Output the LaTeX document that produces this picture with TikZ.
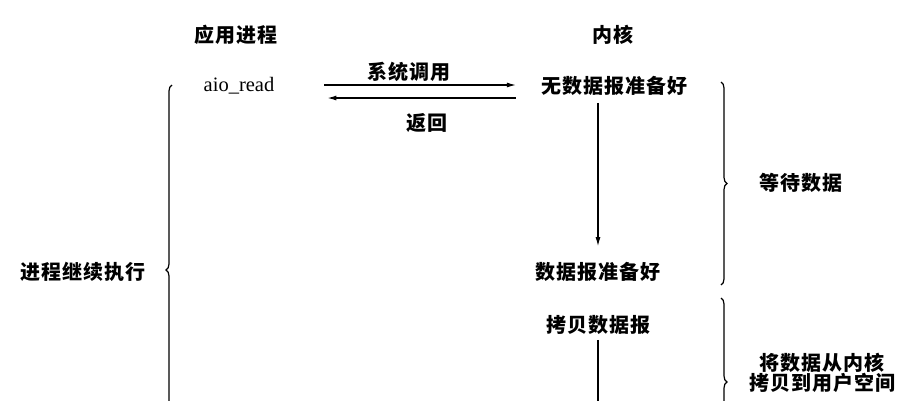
\documentclass[tikz,border=0pt]{standalone}
\usepackage{fontspec}
\newfontfamily\cjk[LetterSpace=5]{Noto Sans CJK SC}
\newfontfamily\lat{Liberation Serif}
\usetikzlibrary{arrows.meta,decorations.pathreplacing}
\tikzset{
	lbl/.style={font=\cjk\bfseries\fontsize{20}{20}\selectfont, inner sep=0pt},
	arr/.style={-{Latex[length=9pt,width=5pt]}, line width=1.1pt},
	brc/.style={decorate, decoration={brace, amplitude=6pt}, line width=1.2pt}
}
\begin{document}
\begin{tikzpicture}[x=1pt,y=-1pt]
\useasboundingbox (0,0) rectangle (908,400);

\node[lbl] (app) at (236,35) {应用进程};
\node[lbl] (kern) at (613,35) {内核};
\node[font=\lat\fontsize{20.5}{20}\selectfont, inner sep=0pt] (aio) at (239,86) {aio\_read};
\node[lbl] (nodata) at (614,86) {无数据报准备好};
\node[lbl] (ready) at (598,272) {数据报准备好};
\node[lbl] (copy) at (598,325) {拷贝数据报};
\node[lbl] (call) at (409,72) {系统调用};
\node[lbl] (ret) at (427,123) {返回};
\node[lbl] (wait) at (801,183) {等待数据};
\node[lbl, align=center] (move) at (822,373) {将数据从内核\\拷贝到用户空间};
\node[lbl] (cont) at (83,272) {进程继续执行};

\draw[arr, shorten <=50pt, shorten >=25pt] ([yshift=1pt]aio.east) -- ([yshift=1pt]nodata.west);
\draw[arr, shorten <=25pt, shorten >=53pt] ([yshift=-12pt]nodata.west) -- ([yshift=-12pt]aio.east);
\draw[arr, shorten <=7pt, shorten >=16pt] (nodata.south -| ready) -- (ready.north);
\coordinate (copyend) at (598,420);
\draw[line width=1.1pt, shorten <=5pt] (copy.south) -- (copyend);

\draw[brc] (172,455) -- (172,85);
\foreach \a/\b in {82/285, 298/466}{
	\draw[brc] (721,\a) -- (721,\b);
}
\end{tikzpicture}
\end{document}
